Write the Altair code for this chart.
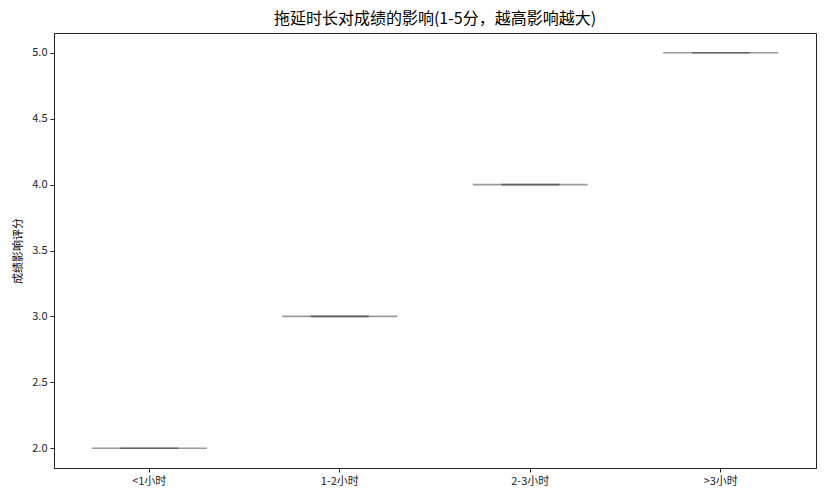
import altair as alt
import pandas as pd

categories = ["<1小时", "1-2小时", "2-3小时", ">3小时"]
scores = [2.0, 3.0, 4.0, 5.0]

df = pd.DataFrame({"cat": categories, "score": scores})

FONT = "Noto Sans CJK SC"

x = alt.X("cat:N", sort=categories, title=None,
          scale=alt.Scale(paddingInner=0, paddingOuter=0),
          axis=alt.Axis(labelAngle=0, labelFont=FONT, labelFontSize=11, labelColor="#222",
                        tickColor="#222", tickSize=4, domainColor="#222", labelPadding=3))
y = alt.Y("score:Q", title="成绩影响评分",
          scale=alt.Scale(domain=[1.85, 5.15], nice=False, zero=False),
          axis=alt.Axis(values=[2.0, 2.5, 3.0, 3.5, 4.0, 4.5, 5.0], format=".1f", grid=False,
                        labelFont=FONT, labelFontSize=11, labelColor="#222",
                        tickColor="#222", tickSize=4, domainColor="#222", labelPadding=3,
                        titleFont=FONT, titleFontSize=11, titleFontWeight="normal",
                        titleColor="#000", titlePadding=8))

box = alt.Chart(df).mark_tick(size=115, thickness=1.6, color="#707070", orient="horizontal").encode(x=x, y=y)
cap = alt.Chart(df).mark_tick(size=58, thickness=1.6, color="#4a4a4a", orient="horizontal").encode(x=x, y=y)

chart = alt.layer(box, cap).properties(
    width=762, height=435,
    title=alt.TitleParams("拖延时长对成绩的影响(1-5分，越高影响越大)", font=FONT, fontSize=16,
                          fontWeight="normal", color="#000", offset=6),
    autosize=alt.AutoSizeParams(type="none"),
    padding={"left": 54, "top": 33, "right": 14, "bottom": 30},
).configure_view(stroke="#222", strokeWidth=1)

chart.save("out.html", embed_options={"renderer": "svg", "actions": False})
